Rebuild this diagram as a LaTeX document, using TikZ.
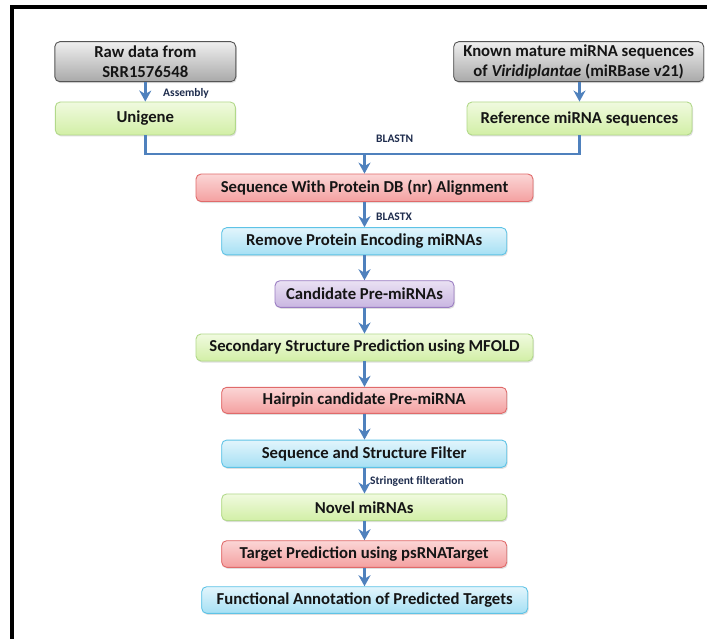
\documentclass[tikz,border=0pt]{standalone}
\usepackage{fontspec}
\setmainfont{Carlito}
\usetikzlibrary{arrows.meta,shadows}
\definecolor{arr}{HTML}{4F81BD}
\definecolor{lbl}{HTML}{1F2D4E}
\definecolor{txt}{HTML}{151515}
\definecolor{redT}{HTML}{FBD6D6}\definecolor{redB}{HTML}{F4A0A0}\definecolor{redD}{HTML}{E06A6A}
\definecolor{bluT}{HTML}{E2F5FC}\definecolor{bluB}{HTML}{A6E0F4}\definecolor{bluD}{HTML}{5EC3E6}
\definecolor{purT}{HTML}{EAE1F3}\definecolor{purB}{HTML}{C9B6E1}\definecolor{purD}{HTML}{9A7CC2}
\definecolor{grnT}{HTML}{F0FADF}\definecolor{grnB}{HTML}{D2EFA6}\definecolor{grnD}{HTML}{B2D98A}
\definecolor{gryT}{HTML}{EFEFEF}\definecolor{gryB}{HTML}{A9A9A9}\definecolor{gryD}{HTML}{555555}
\tikzset{
  box/.style={rounded corners=5pt, line width=0.9pt, inner sep=0pt, align=center,
    font=\bfseries\fontsize{16.7}{20}\selectfont, text=txt,
    drop shadow={shadow xshift=1pt,shadow yshift=-1.5pt,opacity=0.25}},
  redbox/.style={box, draw=redD, top color=redT, bottom color=redB},
  blubox/.style={box, draw=bluD, top color=bluT, bottom color=bluB},
  purbox/.style={box, draw=purD, top color=purT, bottom color=purB},
  grnbox/.style={box, draw=grnD, top color=grnT, bottom color=grnB},
  grybox/.style={box, draw=gryD, top color=gryT, bottom color=gryB},
  conn/.style={draw=arr, line width=2.8pt},
  arrow/.style={conn, -{Stealth[length=11pt,width=12pt,inset=3.5pt]}},
  lab/.style={font=\bfseries\fontsize{11.5}{13}\selectfont, text=lbl, anchor=west, inner sep=0pt},
}
\begin{document}
\begin{tikzpicture}[x=1pt,y=-1pt]
\useasboundingbox (0,0) rectangle (707,639);
\fill[white] (0,0) rectangle (707,639);
% frame
\draw[line width=4pt, black] (12,639) -- (12,7) -- (707,7);

\node[grybox, minimum width=181pt, minimum height=40pt] (raw) at (145.3,61.7) {Raw data from\\SRR1576548};
\node[grnbox, minimum width=180pt, minimum height=33pt] (uni) at (145.3,118.5) {Unigene};
\node[grybox, minimum width=250pt, minimum height=40pt] (known) at (578.7,61.7) {Known mature miRNA sequences\\of \textit{Viridiplantae} (miRBase v21)};
\node[grnbox, minimum width=225pt, minimum height=33pt] (ref) at (579.5,118.5) {Reference miRNA sequences};

\node[redbox, minimum width=337pt, minimum height=27.5pt] (seq) at (364.5,187.8) {Sequence With Protein DB (nr) Alignment};
\node[blubox, minimum width=285pt, minimum height=27.3pt] (rem) at (364.2,241.3) {Remove Protein Encoding miRNAs};
\node[purbox, minimum width=179pt, minimum height=26.6pt] (cand) at (364.5,294) {Candidate Pre-miRNAs};
\node[grnbox, minimum width=337pt, minimum height=27pt] (sec) at (364.5,347.5) {Secondary Structure Prediction using MFOLD};
\node[redbox, minimum width=285pt, minimum height=26pt] (hair) at (364.2,400.3) {Hairpin candidate Pre-miRNA};
\node[blubox, minimum width=285pt, minimum height=27.3pt] (ssf) at (364.2,453.7) {Sequence and Structure Filter};
\node[grnbox, minimum width=285pt, minimum height=26.7pt] (novel) at (364.2,507.3) {Novel miRNAs};
\node[redbox, minimum width=285pt, minimum height=26.6pt] (target) at (364.2,554) {Target Prediction using psRNATarget};
\node[blubox, minimum width=326pt, minimum height=26.6pt] (func) at (364.7,600) {Functional Annotation of Predicted Targets};

\coordinate (jl) at (145.3,154);
\coordinate (jr) at (579.5,154);
\coordinate (jc) at (364.5,154);

\draw[arrow] (raw.south) -- (uni.north);
\draw[arrow] (known.south -| ref.north) -- (ref.north);
\draw[conn] (uni.south) -- (jl) -- (jr) -- (ref.south);
\draw[arrow] (jc) -- (seq.north);
\draw[arrow] (seq.south -| cand.north) -- (rem.north -| cand.north);
\draw[arrow] (rem.south -| cand.north) -- (cand.north);
\draw[arrow] (cand.south) -- (sec.north -| cand.south);
\draw[arrow] (sec.south -| cand.south) -- (hair.north -| cand.south);
\draw[arrow] (hair.south -| cand.south) -- (ssf.north -| cand.south);
\draw[arrow] (ssf.south -| cand.south) -- (novel.north -| cand.south);
\draw[arrow] (novel.south -| cand.south) -- (target.north -| cand.south);
\draw[arrow] (target.south -| cand.south) -- (func.north -| cand.south);

\node[lab] (l1) at (163,93) {Assembly};
\node[lab] (l2) at (376,139) {BLASTN};
\node[lab] (l3) at (376,216.7) {BLASTX};
\node[lab] (l4) at (370,481.7) {Stringent filteration};
\end{tikzpicture}
\end{document}
